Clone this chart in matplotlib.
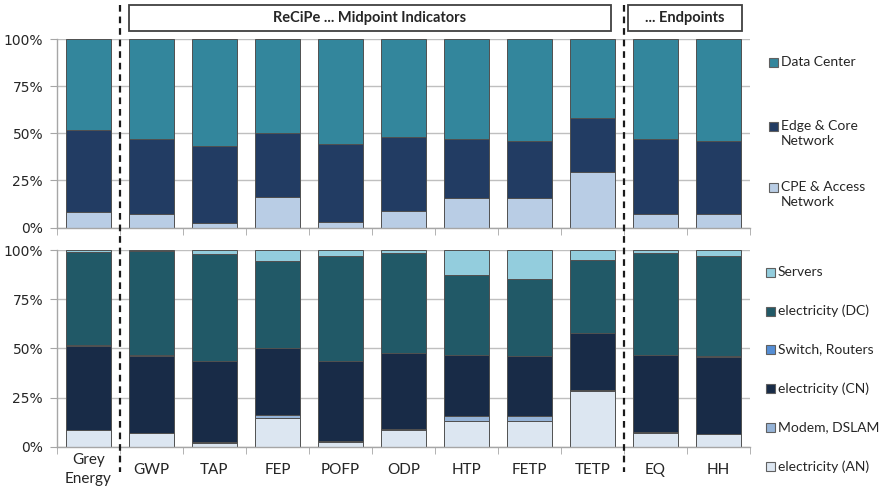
import matplotlib
matplotlib.use("Agg")
import matplotlib.pyplot as plt
import numpy as np
from matplotlib.lines import Line2D
from matplotlib.patches import Rectangle
from matplotlib.transforms import blended_transform_factory

# ---- data (shares in %) ----
categories = ["Grey\nEnergy", "GWP", "TAP", "FEP", "POFP", "ODP", "HTP", "FETP", "TETP", "EQ", "HH"]

# upper panel: life-cycle phase groups
cpe_access = [8.4, 7.0, 2.2, 16.3, 2.9, 8.9, 15.8, 15.8, 29.3, 7.0, 7.0]
edge_core = [43.3, 39.8, 41.2, 34.0, 41.2, 38.9, 31.3, 30.2, 28.9, 39.8, 38.9]
data_center = [48.3, 53.2, 56.6, 49.7, 55.9, 52.2, 52.9, 54.0, 41.8, 53.2, 54.1]

# lower panel: detailed contributors
elec_an = [8.5, 6.8, 2.0, 14.7, 2.5, 8.6, 13.0, 13.0, 28.5, 7.1, 6.3]
modem_dslam = [0.2, 0.2, 0.2, 1.4, 0.2, 0.2, 2.6, 2.6, 0.2, 0.2, 0.2]
elec_cn = [42.7, 39.3, 41.4, 34.1, 40.9, 38.7, 31.0, 30.5, 29.1, 39.3, 39.3]
switch_routers = [0.2, 0.2, 0.2, 0.2, 0.2, 0.2, 0.2, 0.2, 0.2, 0.2, 0.2]
elec_dc = [47.6, 53.0, 54.2, 43.8, 53.3, 50.6, 40.6, 39.0, 36.9, 51.5, 50.9]
servers = [0.8, 0.5, 2.0, 5.8, 2.9, 1.7, 12.6, 14.7, 5.1, 1.7, 3.1]

top_series = [
    ("CPE & Access\nNetwork", cpe_access, "#B9CDE5"),
    ("Edge & Core\nNetwork", edge_core, "#223C63"),
    ("Data Center", data_center, "#33869C"),
]
bottom_series = [
    ("electricity (AN)", elec_an, "#DCE6F1"),
    ("Modem, DSLAM", modem_dslam, "#95B3D7"),
    ("electricity (CN)", elec_cn, "#182B47"),
    ("Switch, Routers", switch_routers, "#558ED5"),
    ("electricity (DC)", elec_dc, "#215967"),
    ("Servers", servers, "#93CDDD"),
]

W, H = 882, 501
fig = plt.figure(figsize=(W / 100, H / 100), dpi=100)
plt.rcParams["font.family"] = ["Lato", "DejaVu Sans"]
txt_color = "#262626"
grid_color = "#BFBFBF"


def px_axes(left, top, right, bottom):
    return fig.add_axes([left / W, 1 - bottom / H, (right - left) / W, (bottom - top) / H])


def style_axes(ax, show_labels):
    n = len(categories)
    ax.set_xlim(-0.5, n - 0.5)
    ax.set_ylim(0, 100)
    ax.set_yticks([0, 25, 50, 75, 100])
    ax.set_yticklabels(["0%", "25%", "50%", "75%", "100%"], family="DejaVu Sans",
                       fontsize=10, color=txt_color)
    ax.yaxis.grid(True, color=grid_color, lw=1)
    ax.set_axisbelow(True)
    for s in ("top", "right"):
        ax.spines[s].set_visible(False)
    for s in ("left", "bottom"):
        ax.spines[s].set_color("#A6A6A6")
        ax.spines[s].set_linewidth(1)
    ax.tick_params(axis="y", length=5, color="#A6A6A6", pad=5)
    ax.set_xticks(np.arange(n))
    ax.set_xticks(np.arange(n + 1) - 0.5, minor=True)
    ax.tick_params(axis="x", which="major", length=0)
    ax.tick_params(axis="x", which="minor", length=5, color="#A6A6A6")
    if show_labels:
        ax.set_xticklabels(categories, fontsize=11, color=txt_color, va="center",
                           linespacing=1.5)
        ax.tick_params(axis="x", which="major", pad=16.5)
    else:
        ax.set_xticklabels([])


def stack(ax, series):
    x = np.arange(len(categories))
    base = np.zeros(len(categories))
    for name, vals, col in series:
        v = np.array(vals, dtype=float)
        ax.bar(x, v, 0.71, bottom=base, color=col, edgecolor="#505050", lw=0.7,
               label=name, zorder=2)
        base += v


ax_top = px_axes(57, 39, 750, 227.5)
ax_bot = px_axes(57, 250, 750, 446.7)
stack(ax_top, top_series)
stack(ax_bot, bottom_series)
style_axes(ax_top, False)
style_axes(ax_bot, True)

# dashed separators between category groups
tr = blended_transform_factory(ax_top.transData, fig.transFigure)
for xb in (0.5, 8.5):
    fig.add_artist(Line2D([xb, xb], [1 - 5 / H, 1 - 472 / H], transform=tr,
                          color="#1A1A1A", lw=1.6, ls=(0, (3, 2.2))))

# group header boxes
for (x0, x1, label) in [(129, 611, "ReCiPe ... Midpoint Indicators"),
                        (628, 742, "... Endpoints")]:
    fig.add_artist(Rectangle((x0 / W, 1 - 31 / H), (x1 - x0) / W, 26 / H,
                             transform=fig.transFigure, fill=False,
                             edgecolor="#404040", lw=1.3))
    fig.text((x0 + x1) / 2 / W, 1 - 18 / H, label, ha="center", va="center",
             fontsize=10.5, fontweight="bold", color=txt_color)


# legends drawn as marker + text entries
def legend_entry(xm, y_first, label, color):
    fig.add_artist(Rectangle((xm / W, 1 - (y_first + 5) / H), 9 / W, 9 / H,
                             transform=fig.transFigure, facecolor=color,
                             edgecolor="#606060", lw=0.8))
    fig.text((xm + 12) / W, 1 - (y_first - 6) / H, label, ha="left", va="top",
             fontsize=10, color=txt_color, linespacing=1.3)


top_leg_y = {"Data Center": 62, "Edge & Core\nNetwork": 126, "CPE & Access\nNetwork": 187}
for name, vals, col in top_series:
    legend_entry(769, top_leg_y[name], name, col)

bot_leg_y = {"Servers": 271.5, "electricity (DC)": 310.5, "Switch, Routers": 349,
             "electricity (CN)": 388, "Modem, DSLAM": 427, "electricity (AN)": 466}
for name, vals, col in bottom_series:
    legend_entry(766, bot_leg_y[name], name, col)

fig.savefig("out.png", dpi=100)
